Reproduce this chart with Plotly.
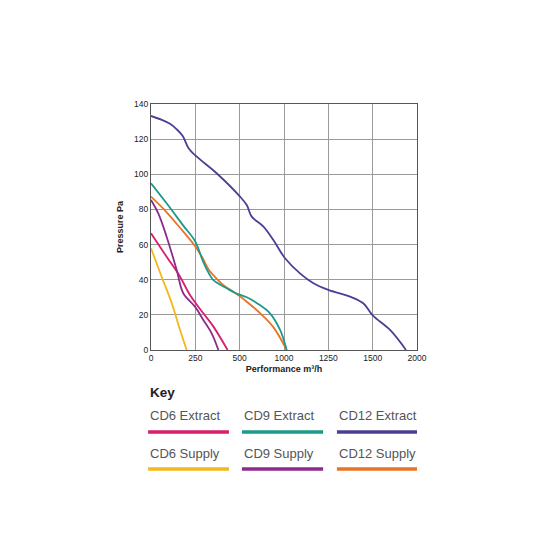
import plotly.graph_objects as go

# x positions are on the chart's evenly spaced axis (tick labels below are as printed)
tick_vals = [0, 250, 500, 750, 1000, 1250, 1500]
tick_labels = ["0", "250", "500", "1000", "1250", "1500", "2000"]
y_ticks = [0, 20, 40, 60, 80, 100, 120, 140]

series_names = ["CD6 Extract", "CD9 Extract", "CD12 Extract",
                "CD6 Supply", "CD9 Supply", "CD12 Supply"]
series_colors = ["#d81f6e", "#1a9a8a", "#4b3f95",
                 "#f4b81c", "#8e2a8c", "#ea7324"]

cd6_extract_x = [0, 88, 164, 220, 295, 352, 432]
cd6_extract_y = [66.4, 53.1, 41.7, 31.3, 20.9, 13.3, 0]

cd9_extract_x = [0, 88, 182, 248, 295, 327, 352, 427, 478, 540, 600, 671, 728, 765]
cd9_extract_y = [94.9, 83.5, 70.8, 62, 50, 43.5, 39.8, 35.1, 32.3, 30, 26.5, 20.9, 11.4, 0]

cd12_extract_x = [0, 60, 107, 145, 179, 211, 258, 370, 502, 540, 568, 634, 690,
                  756, 840, 916, 1000, 1122, 1197, 1250, 1348, 1438]
cd12_extract_y = [133.2, 131, 128.7, 125.6, 121.8, 115, 110, 100.6, 87.3, 82.5,
                  75.9, 70.2, 62.6, 52.2, 43.6, 38, 34.2, 30.4, 26.6, 19.7, 11.4, 0]

cd6_supply_x = [0, 60, 117, 164, 201]
cd6_supply_y = [57.9, 41.7, 26.6, 11.4, 0]

cd9_supply_x = [0, 41, 88, 145, 182, 248, 295, 342, 380]
cd9_supply_y = [85.4, 77.8, 64.5, 45.5, 32.3, 24.7, 17.1, 9.5, 0]

cd12_supply_x = [0, 73, 160, 246, 290, 327, 368, 420, 478, 540, 615, 690, 765]
cd12_supply_y = [87.3, 80, 70, 59.5, 52.5, 45.5, 40.8, 36, 32.3, 27.5, 21, 13, 0]

xs = [cd6_extract_x, cd9_extract_x, cd12_extract_x, cd6_supply_x, cd9_supply_x, cd12_supply_x]
ys = [cd6_extract_y, cd9_extract_y, cd12_extract_y, cd6_supply_y, cd9_supply_y, cd12_supply_y]

fig = go.Figure()
draw_order = [3, 0, 4, 5, 1, 2]
for i in draw_order:
    fig.add_trace(go.Scatter(
        x=xs[i], y=ys[i], mode="lines", name=series_names[i],
        line=dict(color=series_colors[i], width=1.8, shape="spline", smoothing=1.0),
        showlegend=False, cliponaxis=True))

fig.update_layout(
    width=550, height=550,
    margin=dict(l=151, r=133, t=104, b=200),
    paper_bgcolor="white", plot_bgcolor="white",
    font=dict(family="Liberation Sans, Arial, sans-serif", color="#333333"),
    xaxis=dict(range=[0, 1500], tickvals=tick_vals, ticktext=tick_labels,
               showgrid=True, gridcolor="#9a9a9a", gridwidth=1,
               showline=True, linecolor="#555555", linewidth=1, mirror=True,
               zeroline=False, ticks="", tickfont=dict(size=8.5, color="#222222"),
               title=dict(text="<b>Performance m³/h</b>", font=dict(size=9, color="#222222"),
                          standoff=3)),
    yaxis=dict(range=[0, 140], tickvals=y_ticks,
               showgrid=True, gridcolor="#9a9a9a", gridwidth=1,
               showline=True, linecolor="#555555", linewidth=1, mirror=True,
               zeroline=False, ticks="", tickfont=dict(size=8.5, color="#222222"),
               title=dict(text="<b>Pressure Pa</b>", font=dict(size=9, color="#222222"),
                          standoff=8)),
)

# Key
fig.add_annotation(text="<b>Key</b>", xref="paper", yref="paper", x=-0.012, y=-0.171,
                   xanchor="left", yanchor="middle", showarrow=False,
                   font=dict(size=13.5, color="#222222"))
col_x0 = [-0.011, 0.342, 0.699]
col_x1 = [0.293, 0.647, 1.0]
row_text_y = [-0.268, -0.419]
row_line_y = [-0.333, -0.484]
for k, (name, color) in enumerate(zip(series_names, series_colors)):
    r, c = divmod(k, 3)
    fig.add_annotation(text=name, xref="paper", yref="paper", x=col_x0[c], y=row_text_y[r],
                       xanchor="left", yanchor="middle", showarrow=False,
                       font=dict(size=13, color="#555555"))
    fig.add_shape(type="line", xref="paper", yref="paper",
                  x0=col_x0[c], x1=col_x1[c], y0=row_line_y[r], y1=row_line_y[r],
                  line=dict(color=color, width=3.5))

fig.write_html("out.html")
